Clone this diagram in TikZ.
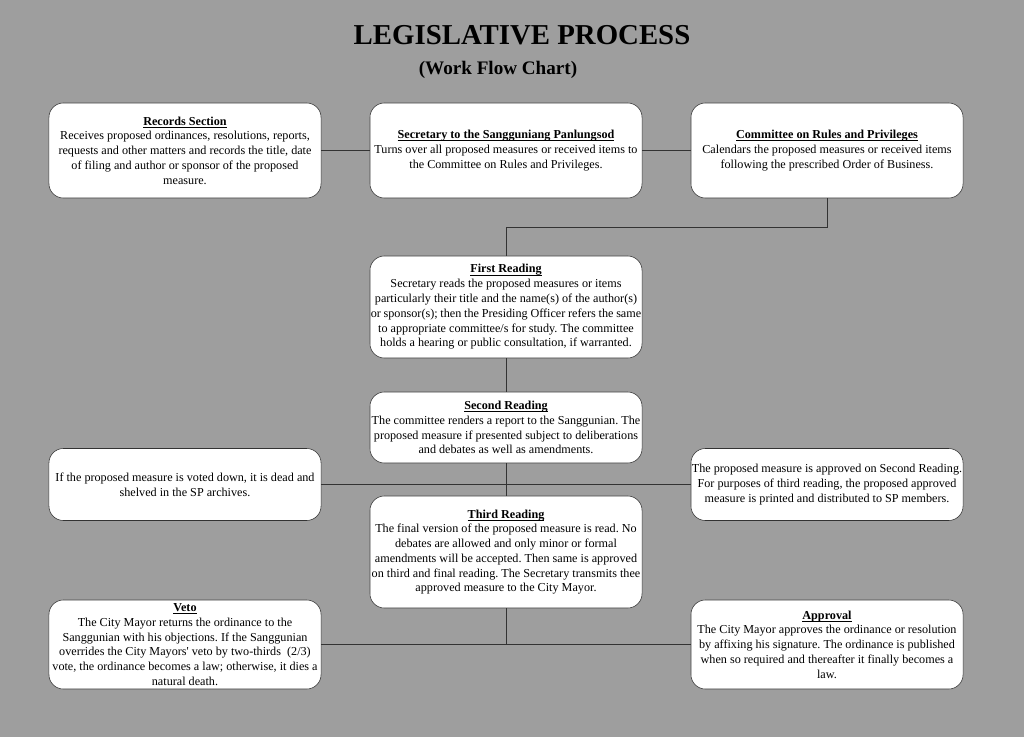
\documentclass[tikz,border=0pt]{standalone}
\usepackage{fontspec}
\setmainfont{Liberation Serif}
\usepackage{tikz}
\definecolor{mybgcolor}{HTML}{9E9E9E}
\definecolor{mylinecolor}{HTML}{333333}
\newcommand{\steptitle}[1]{\setbox0\hbox{\textbf{#1}}\rlap{\vrule width\wd0 height -1.3pt depth 1.9pt}\box0}
\tikzset{
  stepbox/.style={draw=mylinecolor, fill=white, rounded corners=0.36cm, rectangle, text width=6.76cm, inner xsep=0.02cm, inner ysep=1pt, align=flush center, font=\fontsize{8.65pt}{10.5pt}\selectfont\frenchspacing},
  link/.style={draw=mylinecolor, line width=0.6pt}
}

\begin{document}
\begin{tikzpicture}[x=0.025cm, y=-0.025cm]%
\fill[mybgcolor] (0,0) rectangle (1024,737);%
\useasboundingbox (0,0) rectangle (1024,737);%
\node (title) at (522, 35) {\fontsize{20.5pt}{20.5pt}\selectfont\bfseries LEGISLATIVE PROCESS};%
\node (subtitle) at (498, 70) {\fontsize{13.6pt}{13.6pt}\selectfont\bfseries (Work Flow Chart)};%
\node[stepbox, minimum height=2.375cm] (records) at (185, 150.5) {\steptitle{Records Section}\\Receives proposed ordinances, resolutions, reports,\\requests and other matters and records the title, date\\of filing and author or sponsor of the proposed\\measure.};%
\node[stepbox, minimum height=2.375cm] (secretary) at (506, 150.5) {\steptitle{Secretary to the Sangguniang Panlungsod}\\Turns over all proposed measures or received items to\\the Committee on Rules and Privileges.};%
\node[stepbox, minimum height=2.375cm] (committee) at (827, 150.5) {\steptitle{Committee on Rules and Privileges}\\Calendars the proposed measures or received items\\following the prescribed Order of Business.};%
\node[stepbox, minimum height=2.55cm] (first) at (506, 307) {\steptitle{First Reading}\\Secretary reads the proposed measures or items\\particularly their title and the name(s) of the author(s)\\or sponsor(s); then the Presiding Officer refers the same\\to appropriate committee/s for study. The committee\\holds a hearing or public consultation, if warranted.};%
\node[stepbox, minimum height=1.775cm] (second) at (506, 427.5) {\steptitle{Second Reading}\\The committee renders a report to the Sanggunian. The\\proposed measure if presented subject to deliberations\\and debates as well as amendments.};%
\node[stepbox, minimum height=1.8cm] (dead) at (185, 484.5) {If the proposed measure is voted down, it is dead and\\shelved in the SP archives.};%
\node[stepbox, minimum height=1.8cm] (approved) at (827, 484.5) {The proposed measure is approved on Second Reading.\\For purposes of third reading, the proposed approved\\measure is printed and distributed to SP members.};%
\node[stepbox, minimum height=2.8cm] (third) at (506, 552) {\steptitle{Third Reading}\\The final version of the proposed measure is read. No\\debates are allowed and only minor or formal\\amendments will be accepted. Then same is approved\\on third and final reading. The Secretary transmits thee\\approved measure to the City Mayor.};%
\node[stepbox, minimum height=2.225cm] (veto) at (185, 644.5) {\steptitle{Veto}\\The City Mayor returns the ordinance to the\\Sanggunian with his objections. If the Sanggunian\\overrides the City Mayors\textquotesingle{} veto by two-thirds~~(2/3)\\vote, the ordinance becomes a law; otherwise, it dies a\\natural death.};%
\node[stepbox, minimum height=2.225cm] (approval) at (827, 644.5) {\steptitle{Approval}\\The City Mayor approves the ordinance or resolution\\by affixing his signature. The ordinance is published\\when so required and thereafter it finally becomes a\\law.};%
\coordinate (turn) at (506, 227);%
\coordinate (join) at (506, 644.5);%
\draw[link] (records) -- (secretary);%
\draw[link] (secretary) -- (committee);%
\draw[link] (committee.south) |- (turn) -- (first.north);%
\draw[link] (first) -- (second);%
\draw[link] (second) -- (third);%
\draw[link] (dead) -- (approved);%
\draw[link] (third.south) -- (join);%
\draw[link] (veto) -- (approval);%
\end{tikzpicture}
\end{document}
